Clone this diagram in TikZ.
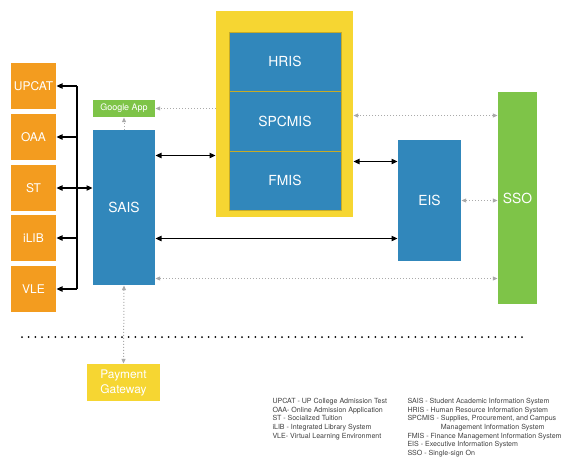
\documentclass[tikz,border=0pt]{standalone}
\usepackage{fontspec}
\setmainfont{TeX Gyre Heros}
\usetikzlibrary{calc,arrows.meta}

\definecolor{boxorange}{RGB}{243,156,31}
\definecolor{boxblue}{RGB}{49,135,187}
\definecolor{boxgreen}{RGB}{126,196,72}
\definecolor{boxyellow}{RGB}{246,214,50}
\definecolor{dotgray}{RGB}{170,170,170}

\tikzset{every picture/.style={line width=0.75pt}}

\begin{document}
\begin{tikzpicture}[x=0.75pt,y=0.75pt,yscale=-1,xscale=1,
	box/.style={rectangle,inner sep=0.75pt,text=white,align=center},
	orangebox/.style={box,fill=boxorange,minimum width=33.75pt,minimum height=34.5pt,font=\fontsize{9}{11}\selectfont},
	bluebox/.style={box,fill=boxblue,font=\fontsize{10.4}{12}\selectfont},
	greenbox/.style={box,fill=boxgreen},
	yellowbox/.style={box,fill=boxyellow},
	oneway/.style={line width=0.9pt,-{Triangle[length=4.5pt,width=4pt]}},
	twoway/.style={line width=0.9pt,{Triangle[length=4.5pt,width=4pt]}-{Triangle[length=4.5pt,width=4pt]}},
	dotlink/.style={dotgray,line width=0.75pt,dash pattern={on 0.75pt off 1.5pt},-{Triangle[length=3.5pt,width=3pt]}},
	dotboth/.style={dotlink,{Triangle[length=3.5pt,width=3pt]}-{Triangle[length=3.5pt,width=3pt]}},
	legend/.style={inner sep=0pt,align=left,anchor=north west,text=black!75,font=\fontsize{5.3}{6.45}\selectfont}]
	\useasboundingbox (0,0) rectangle (568,458);

	%Orange boxes
	\node (upcat) [orangebox] at (33.5,86) {UPCAT};
	\node (oaa) [orangebox] at (33.5,137) {OAA};
	\node (st) [orangebox] at (33.5,188) {ST};
	\node (ilib) [orangebox] at (33.5,238) {iLIB};
	\node (vle) [orangebox] at (33.5,289) {VLE};

	%SAIS and Google App
	\node (sais) [bluebox,minimum width=46.5pt,minimum height=116.25pt] at (124,207.5) {SAIS};
	\node (google) [greenbox,minimum width=46.5pt,minimum height=12.75pt,font=\fontsize{6.7}{8}\selectfont] at (124,108.5) {Google App};

	%Yellow frame with HRIS, SPCMIS, FMIS
	\node (frame) [yellowbox,minimum width=102.75pt,minimum height=154.5pt] at (284.5,114) {};
	\node (hris) [bluebox,draw=boxyellow!80!black,line width=0.4pt,minimum width=84pt,minimum height=44.25pt] at (285,61.5) {HRIS};
	\node (spcmis) [bluebox,draw=boxyellow!80!black,line width=0.4pt,minimum width=84pt,minimum height=45pt] at (285,121) {SPCMIS};
	\node (fmis) [bluebox,draw=boxyellow!80!black,line width=0.4pt,minimum width=84pt,minimum height=44.25pt] at (285,180.5) {FMIS};

	%EIS and SSO
	\node (eis) [bluebox,minimum width=47.25pt,minimum height=90.75pt] at (429.5,200.5) {EIS};
	\node (sso) [greenbox,minimum width=29.25pt,minimum height=159pt,font=\fontsize{10.4}{12}\selectfont] at (517.5,198) {SSO};

	%Payment Gateway
	\node (pay) [yellowbox,minimum width=54.75pt,minimum height=27.75pt,font=\fontsize{8.9}{11.25}\selectfont] at (123.5,382.5) {Payment\\Gateway};

	%Bus to the orange boxes
	\coordinate (bus) at (77,0);
	\draw [line width=0.9pt] (upcat.east -| bus) -- (vle.east -| bus);
	\foreach \n in {upcat,oaa,ilib,vle}
		\draw [oneway] (\n.east -| bus) -- (\n.east);
	\draw [twoway] (st.east) -- (st.east -| sais.west);

	%Black links
	\draw [twoway] ($(sais.north east)+(0,26)$) coordinate (a) -- (a -| frame.west);
	\draw [twoway] ($(eis.north west)+(0,22)$) coordinate (b) -- (b -| frame.east);
	\draw [twoway] ($(eis.south west)+(0,-23)$) coordinate (c) -- (c -| sais.east);

	%Dotted links
	\draw [dotlink] (google.east -| frame.west) -- (google.east);
	\draw [dotlink] (sais.north) -- (google.south);
	\draw [dotboth] ($(sso.north west)+(0,24)$) coordinate (d) -- (d -| frame.east);
	\draw [dotboth] (eis.east) -- (eis.east -| sso.west);
	\draw [dotboth] ($(sais.south east)+(0,-7)$) coordinate (e) -- (e -| sso.west);
	\draw [dotboth] (sais.south) -- (pay.north);

	%Separator
	\coordinate (sepl) at (22,337);
	\coordinate (sepr) at (527,337);
	\draw [line width=1.5pt,line cap=round,dash pattern={on 0pt off 5pt}] (sepl) -- (sepr);

	%Legend
	\node (legl) [legend] at (272,398) {UPCAT - UP College Admission Test\\OAA- Online Admission Application\\ST - Socialized Tuition\\iLIB - Integrated Library System\\VLE- Virtual Learning Environment};
	\node (legr) [legend] at (407,398) {SAIS - Student Academic Information System\\HRIS - Human Resource Information System\\SPCMIS - Supplies, Procurement, and Campus\\\hspace*{25pt}Management Information System\\FMIS - Finance Management Information System\\EIS - Executive Information System\\SSO - Single-sign On};
\end{tikzpicture}
\end{document}
